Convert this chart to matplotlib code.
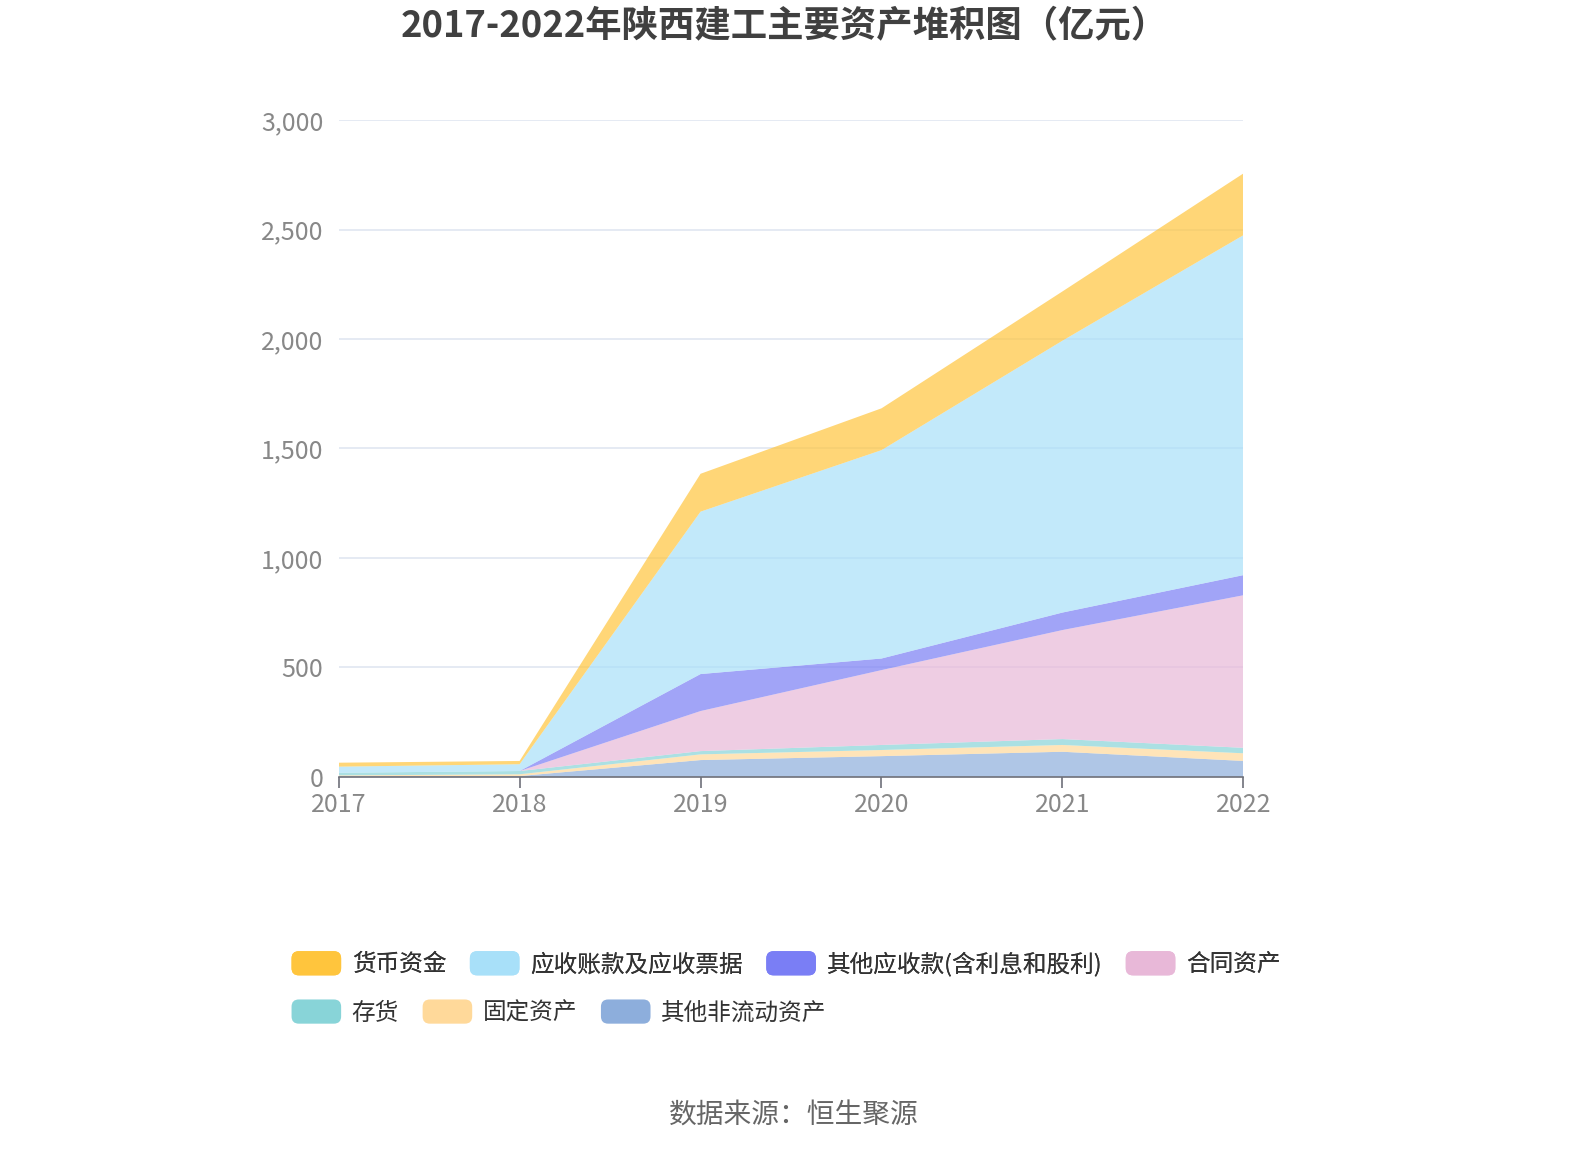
import matplotlib
matplotlib.use("Agg")
import matplotlib.pyplot as plt
from matplotlib.patches import Patch, FancyBboxPatch
from matplotlib.legend_handler import HandlerPatch
from matplotlib.ticker import FuncFormatter

plt.rcParams['font.family'] = ['Noto Sans CJK SC', 'DejaVu Sans']

# 数据（亿元）
years = [2017, 2018, 2019, 2020, 2021, 2022]
labels = ['货币资金', '应收账款及应收票据', '其他应收款(含利息和股利)', '合同资产',
          '存货', '固定资产', '其他非流动资产']
huobi = [18, 15, 173, 191, 225, 282]
yingshou = [28, 31, 742, 952, 1242, 1553]
qita_ys = [0, 0, 169, 53, 80, 92]
hetong = [0, 0, 183, 342, 498, 697]
cunhuo = [12, 15, 15, 23, 27, 25]
guding = [4, 8, 26, 28, 31, 35]
qita_fld = [2, 3, 76, 94, 114, 72]

colors = ['#FFC53D', '#A8E0F9', '#7A7EF5', '#E8B8D8', '#88D4D8', '#FFD99A', '#8DAEDC']


class RoundHandler(HandlerPatch):
    def create_artists(self, legend, orig_handle, xdescent, ydescent,
                       width, height, fontsize, trans):
        p = FancyBboxPatch((-xdescent, -ydescent), width, height,
                           boxstyle="round,pad=0,rounding_size=%f" % (height * 0.3),
                           facecolor=orig_handle.get_facecolor(), edgecolor='none',
                           transform=trans)
        return [p]


fig = plt.figure(figsize=(15.9, 11.5), dpi=100)
ax = fig.add_axes([0.213, 0.3246, 0.569, 0.571])

# 从下往上堆叠
stack = [qita_fld, guding, cunhuo, hetong, qita_ys, yingshou, huobi]
stack_colors = colors[::-1]
ax.stackplot(years, *stack, colors=stack_colors, alpha=0.7, linewidth=0)

ax.set_xlim(2017, 2022)
ax.set_ylim(0, 3000)
ax.set_yticks(range(0, 3001, 500))
ax.yaxis.set_major_formatter(FuncFormatter(lambda v, p: f"{int(v):,}"))
ax.set_xticks(years)
ax.grid(axis='y', color='#E0E6F1', linewidth=1.2)
ax.set_axisbelow(True)
for s in ['top', 'right', 'left']:
    ax.spines[s].set_visible(False)
ax.spines['bottom'].set_color('#6E7079')
ax.spines['bottom'].set_linewidth(1.2)
ax.tick_params(axis='y', length=0, labelsize=18, labelcolor='#888888', pad=11)
ax.tick_params(axis='x', length=8, width=1.2, color='#6E7079', labelsize=18,
               labelcolor='#888888', pad=3)

fig.text(0.493, 0.978, '2017-2022年陕西建工主要资产堆积图（亿元）', ha='center', va='center',
         fontsize=26.2, fontweight='bold', color='#404040')

handles = [Patch(facecolor=c) for c in colors]
kw = dict(frameon=False, fontsize=17, handler_map={Patch: RoundHandler()}, labelcolor='#333333',
          handlelength=2.1, handleheight=1.2, handletextpad=0.45, columnspacing=1.0,
          loc='center left')
leg1 = fig.legend(handles[:4], labels[:4], bbox_to_anchor=(0.170, 0.162), ncol=4, **kw)
fig.legend(handles[4:], labels[4:], bbox_to_anchor=(0.170, 0.120), ncol=3, **kw)
fig.add_artist(leg1)

fig.text(0.4995, 0.030, '数据来源：恒生聚源', ha='center', va='center', fontsize=20, color='#666666')

fig.savefig('out.png', dpi=100)
